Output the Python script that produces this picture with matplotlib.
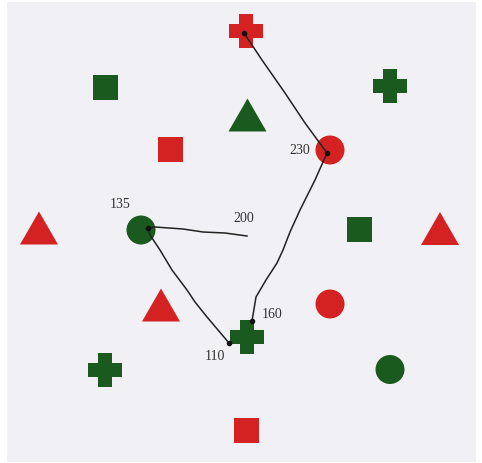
import matplotlib
matplotlib.use("Agg")
import matplotlib.pyplot as plt
from matplotlib.patches import Rectangle, Circle, Polygon
import numpy as np

# Shapes: kind, colour, centre x, centre y (picture pixel coordinates)
kinds = ["cross", "square", "cross", "triangle", "square", "circle",
         "triangle", "circle", "square", "triangle",
         "triangle", "circle", "cross", "cross", "circle", "square"]
colors = ["red", "green", "green", "green", "red", "red",
          "red", "green", "green", "red",
          "red", "red", "green", "green", "green", "red"]
xs = [246, 105.5, 390, 247.5, 170, 330, 39, 141, 359.5, 440, 161, 330, 247, 105, 390, 246]
ys = [30.5, 87.5, 85.5, 115, 149.5, 150, 228, 230, 229.5, 228.5, 305, 304, 336.5, 370, 369.5, 430.5]

# Hand-drawn path segments
path1_x = [244, 262, 285, 305, 327, 315, 300, 290, 283, 277, 266, 256, 252]
path1_y = [33, 60, 93, 123, 153, 180, 210, 232, 250, 263, 280, 297, 321]
path2_x = [229, 218, 207, 195, 187, 172, 160, 150, 148, 155, 183, 203, 225, 247]
path2_y = [343, 330, 317, 302, 290, 270, 250, 235, 228, 227, 229, 232, 233, 236]

# Labels
label_text = ["230", "135", "200", "160", "110"]
label_x = [300, 120, 244, 272, 215]
label_y = [151, 205, 219, 314, 357]

RED = "#d42222"
GREEN = "#1a5a1e"
cmap = {"red": RED, "green": GREEN}

W, H = 482, 463
fig = plt.figure(figsize=(W / 100, H / 100), dpi=100)
ax = fig.add_axes([0, 0, 1, 1])
ax.set_xlim(0, W)
ax.set_ylim(H, 0)
ax.axis("off")
fig.patch.set_facecolor("white")

ax.add_patch(Rectangle((7, 2), 469, 460, facecolor="#f1f1f5", edgecolor="none", zorder=0))

def cross(cx, cy, size=34, arm=14):
    h, a = size / 2, arm / 2
    pts = [(-a, -h), (a, -h), (a, -a), (h, -a), (h, a), (a, a), (a, h),
           (-a, h), (-a, a), (-h, a), (-h, -a), (-a, -a)]
    return Polygon([(cx + px, cy + py) for px, py in pts], closed=True)

for k, c, x, y in zip(kinds, colors, xs, ys):
    col = cmap[c]
    if k == "cross":
        p = cross(x, y)
    elif k == "square":
        p = Rectangle((x - 12.5, y - 12.5), 25, 25)
    elif k == "circle":
        p = Circle((x, y), 14.5)
    else:
        w, hgt = 38, 33
        p = Polygon([(x - w / 2, y + hgt / 2), (x + w / 2, y + hgt / 2), (x, y - hgt / 2)], closed=True)
    p.set_facecolor(col)
    p.set_edgecolor("none")
    p.set_zorder(2)
    ax.add_patch(p)

ax.plot(path1_x, path1_y, color="#222222", lw=1.1, zorder=3)
ax.plot(path2_x, path2_y, color="#222222", lw=1.1, zorder=3)
for px, py in [(path1_x[0], path1_y[0]), (path1_x[4], path1_y[4]), (path1_x[-1], path1_y[-1]),
               (path2_x[0], path2_y[0]), (path2_x[8], path2_y[8])]:
    ax.plot(px, py, "o", color="#111111", ms=3, zorder=4)

for t, x, y in zip(label_text, label_x, label_y):
    ax.text(x, y, t, ha="center", va="center", fontsize=10,
            family="Liberation Serif", color="#333333", zorder=5)

fig.savefig("out.png", dpi=100, facecolor="white")
